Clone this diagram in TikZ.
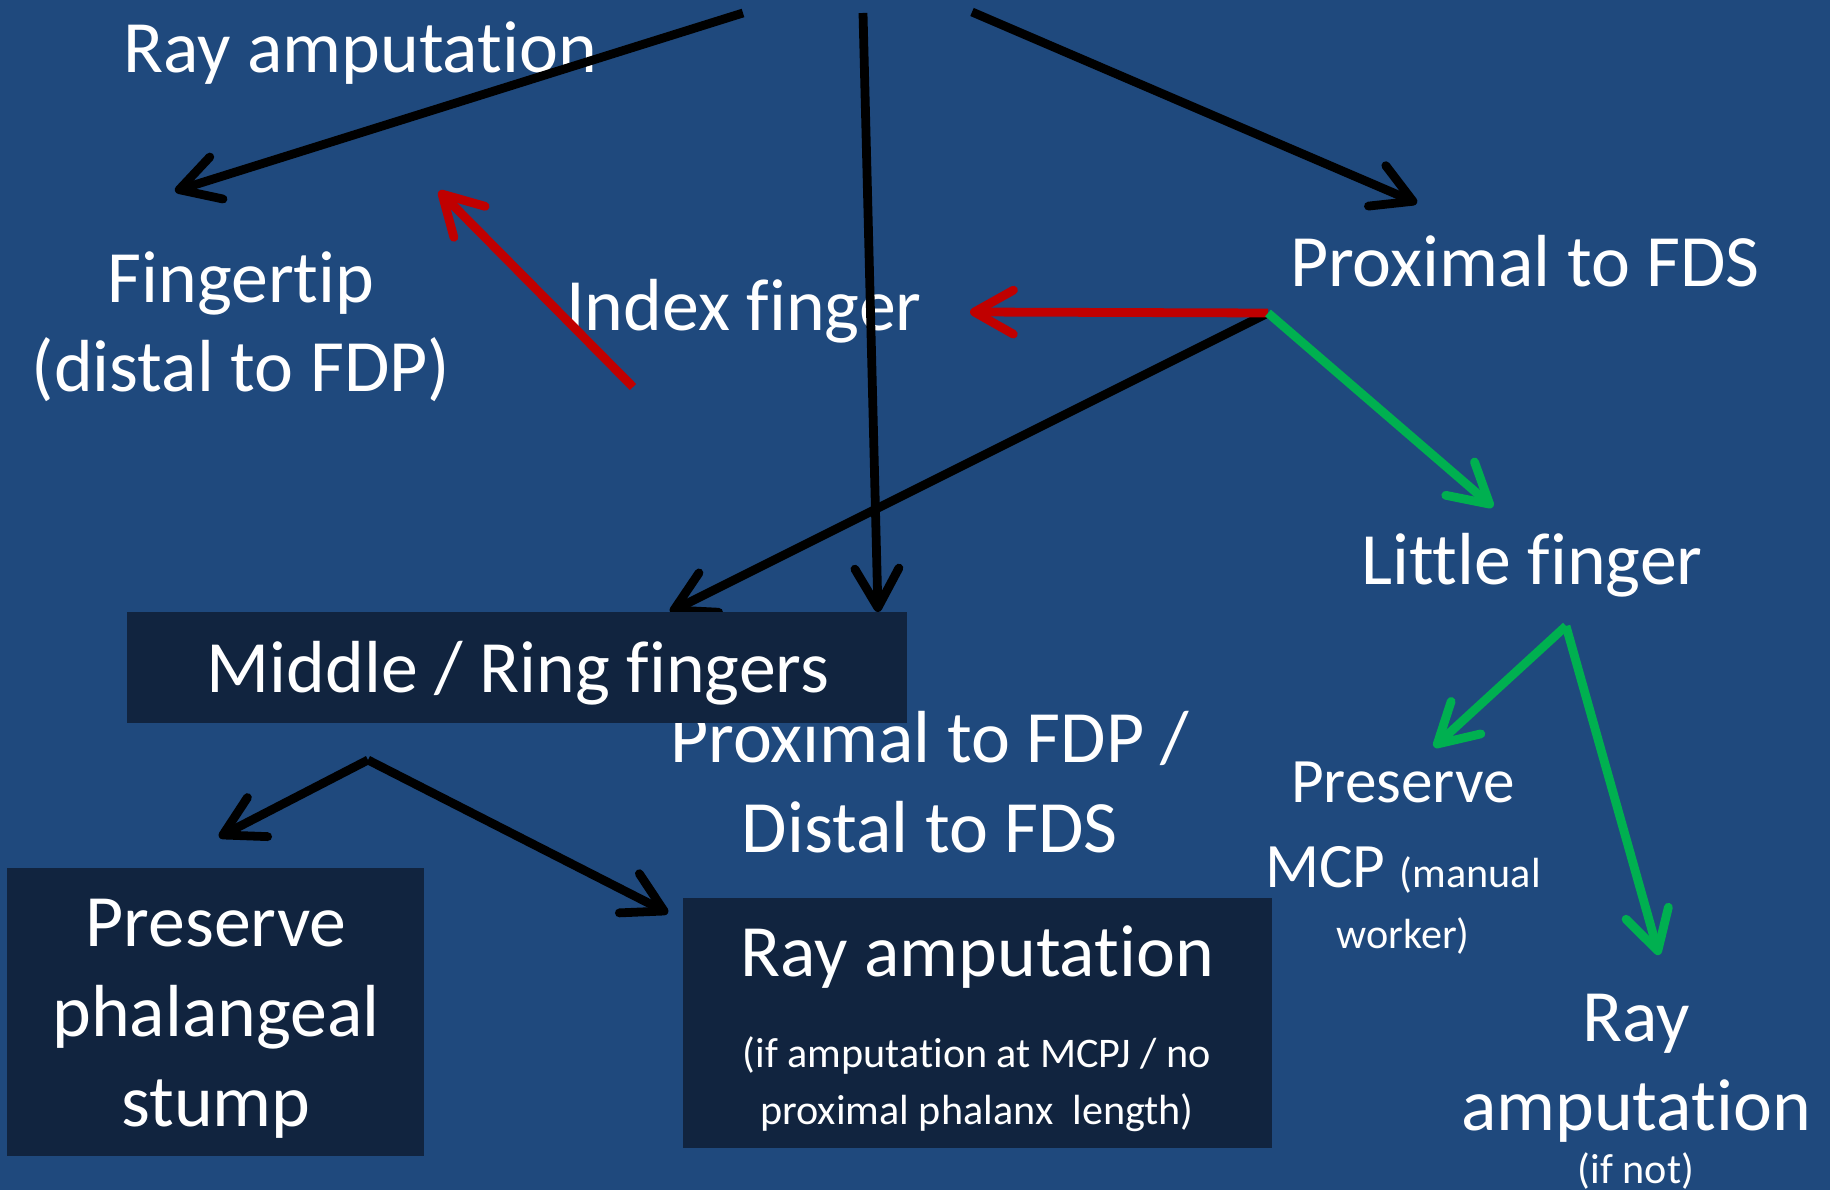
\documentclass[tikz,border=0pt]{standalone}
\usepackage{fontspec}
\setmainfont{Carlito}[Ligatures={NoCommon,NoContextual,NoRare}]
\usepackage{xcolor}
\usetikzlibrary{arrows.meta}

\definecolor{slide}{HTML}{1F497D}
\definecolor{panel}{HTML}{11243F}
\definecolor{nogo}{HTML}{C00000}
\definecolor{go}{HTML}{00B050}

\begin{document}
\begin{tikzpicture}[
    txt/.style={text=white, inner sep=0pt, align=center, anchor=base, font=\fontsize{21}{25.6}\selectfont},
    small/.style={text=white, inner sep=0pt, align=center, anchor=base, font=\fontsize{12}{16}\selectfont},
    panelbox/.style={fill=panel, inner sep=0pt},
    link/.style={line width=2.5pt, -{Straight Barb[length=3.9mm, width=4.4mm, round]}}
    ]
                    \fill[slide] (0, 0) rectangle (18.30, -11.90);
                    \useasboundingbox (0, 0) rectangle (18.30, -11.90);

                    \node[txt] (raytop) at (3.60, -0.73) {Ray amputation};
                    \node[txt] (tip) at (2.41, -3.92) {Fingertip\\(distal to FDP)};
                    \node[txt] (index) at (7.44, -3.31) {Index finger};
                    \node[txt] (fds) at (15.25, -2.87) {Proximal to FDS};
                    \node[txt] (little) at (15.32, -5.85) {Little finger};
                    \node[txt] (fdp) at (9.30, -8.52) {Proximal to FDP /\\Distal to FDS};
                    \node[txt, font=\fontsize{18}{24.4}\selectfont] (mcp) at (14.03, -9.48)
                        {Preserve\\MCP {\fontsize{12}{16}\selectfont (manual}\\[-7.3pt]{\fontsize{12}{16}\selectfont worker)}};
                    \node[txt] (rayright) at (16.36, -11.83)
                        {Ray\\amputation\\[-10.8pt]{\fontsize{12}{16}\selectfont (if not)}};

                    \coordinate (topl) at (7.43, -0.13);
                    \coordinate (topm) at (8.63, -0.13);
                    \coordinate (topr) at (9.72, -0.12);
                    \coordinate (hub) at (12.68, -3.13);
                    \coordinate (hubl) at (15.66, -6.26);
                    \coordinate (hubm) at (3.68, -7.60);
                    \coordinate (redfrom) at (6.33, -3.87);
                    \coordinate (tiptarget) at (1.75, -1.91);
                    \coordinate (mrtarget) at (8.78, -6.12);
                    \coordinate (fdstarget) at (14.17, -2.03);
                    \coordinate (redtip) at (4.39, -1.91);
                    \coordinate (redindex) at (9.70, -3.12);
                    \coordinate (mrtarget2) at (6.70, -6.12);
                    \coordinate (littletarget) at (14.93, -5.07);
                    \coordinate (mcptarget) at (14.34, -7.47);
                    \coordinate (raytarget) at (16.59, -9.55);
                    \coordinate (stumptarget) at (2.19, -8.37);
                    \coordinate (raybox) at (6.68, -9.13);

                    \foreach \a/\b in {topl/tiptarget, topm/mrtarget, topr/fdstarget, hub/mrtarget2,
                                       hubm/stumptarget, hubm/raybox}
                        \draw[link] (\a) -- (\b);
                    \foreach \a/\b in {redfrom/redtip, hub/redindex}
                        \draw[link, nogo] (\a) -- (\b);
                    \foreach \a/\b in {hub/littletarget, hubl/mcptarget, hubl/raytarget}
                        \draw[link, go] (\a) -- (\b);

                    \node[panelbox, minimum width=7.80cm, minimum height=1.11cm] (midring) at (5.17, -6.675) {};
                    \node[panelbox, minimum width=4.17cm, minimum height=2.88cm] (stump) at (2.155, -10.12) {};
                    \node[panelbox, minimum width=5.89cm, minimum height=2.50cm] (ray) at (9.775, -10.23) {};

                    \node[txt] (midringtext) at (5.18, -6.93) {Middle / Ring fingers};
                    \node[txt] (stumptext) at (2.16, -11.26) {Preserve\\phalangeal\\stump};
                    \node[small] (raytext) at (9.77, -11.24)
                        {{\fontsize{21}{25.6}\selectfont Ray amputation}\\[9.9pt](if amputation at MCPJ / no\\
                         proximal phalanx\ \ length)};
                \end{tikzpicture}
\end{document}
